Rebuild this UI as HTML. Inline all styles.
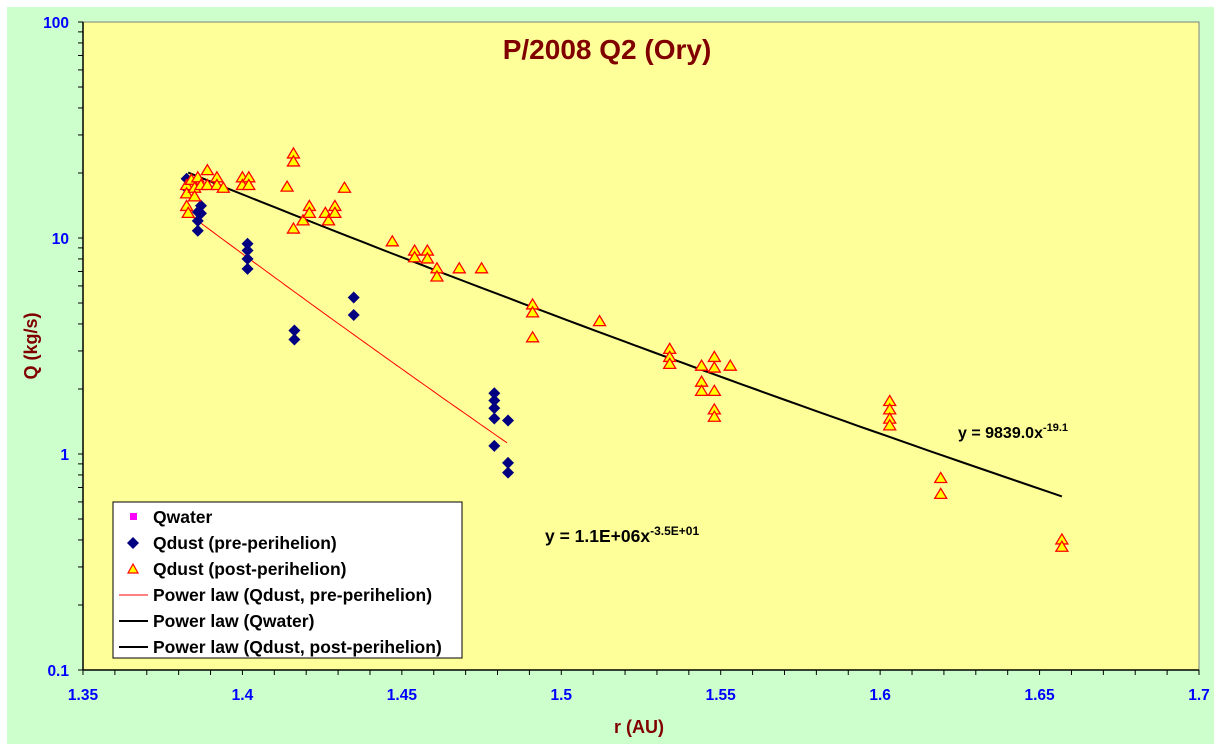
<!DOCTYPE html>
<html><head><meta charset="utf-8"><style>
html,body{margin:0;padding:0;background:#fff;}
svg{display:block;font-family:"Liberation Sans",Arial,sans-serif;font-weight:bold;}
</style></head><body>
<svg id="chart" width="1221" height="750" viewBox="0 0 1221 750">
<rect x="7" y="7" width="1207" height="737" fill="#CCFFCC"/>
<rect x="83" y="22" width="1116" height="648" fill="#FFFF99" stroke="#808080" stroke-width="1"/>
<g id="axes"></g>
<g id="marks"></g>
<text x="607" y="59" text-anchor="middle" font-size="28" fill="#800000">P/2008 Q2 (Ory)</text>
<text transform="translate(37,346) rotate(-90)" text-anchor="middle" font-size="18" fill="#800000">Q (kg/s)</text>
<text x="639" y="733" text-anchor="middle" font-size="18" fill="#800000">r (AU)</text>
<text x="958" y="438" font-size="16" fill="#000">y = 9839.0x<tspan dy="-7" font-size="11">-19.1</tspan></text>
<text x="545" y="542" font-size="17.5" fill="#000">y = 1.1E+06x<tspan dy="-7" font-size="12">-3.5E+01</tspan></text>
<g>
<rect x="113" y="502" width="349" height="156" fill="#fff" stroke="#000"/>
<rect x="130" y="513" width="7" height="7" fill="#FF00FF"/>
<text x="153" y="523" font-size="17.5">Qwater</text>
<polygon points="133,537 139,543 133,549 127,543" fill="#000080"/>
<text x="153" y="549" font-size="17.5">Qdust (pre-perihelion)</text>
<polygon points="133,564 138,573 128,573" fill="#FFFF00" stroke="#FF0000" stroke-width="1.2"/>
<text x="153" y="575" font-size="17.5">Qdust (post-perihelion)</text>
<line x1="119" y1="595" x2="148" y2="595" stroke="#FF0000" stroke-width="1"/>
<text x="153" y="601" font-size="17.5">Power law (Qdust, pre-perihelion)</text>
<line x1="119" y1="621" x2="148" y2="621" stroke="#000" stroke-width="2"/>
<text x="153" y="627" font-size="17.5">Power law (Qwater)</text>
<line x1="119" y1="647" x2="148" y2="647" stroke="#000" stroke-width="2"/>
<text x="153" y="653" font-size="17.5">Power law (Qdust, post-perihelion)</text>
</g>
</svg>
<script>
const xTicks=[1.35,1.4,1.45,1.5,1.55,1.6,1.65,1.7];
const xTickLabels=["1.35","1.4","1.45","1.5","1.55","1.6","1.65","1.7"];
const yTicks=[0.1,1,10,100];
const yTickLabels=["0.1","1","10","100"];
const preR=[1.3825,1.3825,1.386,1.386,1.386,1.387,1.387,1.4016,1.4016,1.4016,1.4016,1.4163,1.4163,1.4349,1.4349,1.479,1.479,1.479,1.479,1.479,1.4833,1.4833,1.4833];
const preQ=[18.8,17,13.2,12,10.8,14.1,13,9.4,8.75,8.0,7.2,3.73,3.39,5.3,4.4,1.91,1.77,1.63,1.46,1.09,1.43,0.91,0.82];
const postR=[1.3825,1.3825,1.3825,1.383,1.384,1.385,1.386,1.387,1.385,1.389,1.389,1.392,1.392,1.394,1.400,1.400,1.402,1.402,1.414,1.416,1.416,1.416,1.419,1.421,1.421,1.426,1.427,1.429,1.429,1.432,1.447,1.454,1.454,1.458,1.458,1.461,1.461,1.468,1.475,1.491,1.491,1.491,1.512,1.534,1.534,1.534,1.544,1.544,1.544,1.548,1.548,1.548,1.548,1.548,1.553,1.603,1.603,1.603,1.603,1.619,1.619,1.657,1.657];
const postQ=[17.5,16,14,13,18.5,17,19,17.5,15.5,20.5,17.5,19,17.5,17,19,17.5,19,17.5,17.2,24.5,22.5,11,12,14,13,13,12,14,13,17,9.6,8.7,8.1,8.7,8,7.2,6.6,7.2,7.2,4.9,4.5,3.45,4.1,3.05,2.8,2.6,2.55,2.15,1.95,2.8,2.5,1.95,1.6,1.48,2.55,1.75,1.6,1.45,1.35,0.77,0.65,0.4,0.37];
const preFit=[1.1e6,-35.0,1.384,1.483];
const postFit=[9839.0,-19.1,1.383,1.657];
const X0=83,X1=1199,Y0=670,Y1=22;
function xs(v){return X0+(v-1.35)/(1.7-1.35)*(X1-X0);}
function ys(q){return Y0-(Math.log10(q)+1)/3*(Y0-Y1);}
const NS="http://www.w3.org/2000/svg";
function mk(tag,attrs,parent){const e=document.createElementNS(NS,tag);for(const k in attrs)e.setAttribute(k,attrs[k]);parent.appendChild(e);return e;}
const axes=document.getElementById('axes'),marks=document.getElementById('marks');
let a=mk('line',{x1:X0,y1:Y1,x2:X0,y2:Y0,stroke:'#000','stroke-width':1.5},axes);


a=mk('line',{x1:X0,y1:Y0,x2:X1,y2:Y0,stroke:'#000','stroke-width':1.5},axes);


for(let v=1.35;v<=1.7001;v+=0.01){const t=mk('line',{x1:xs(v),y1:Y0,x2:xs(v),y2:Y0+5,stroke:'#000'},axes);

}
xTicks.forEach((v,i)=>{const t=mk('text',{x:xs(v),y:Y0+30,'text-anchor':'middle','font-size':15.5,fill:'#0000FF'},axes);t.textContent=xTickLabels[i];

});
for(let d=-1;d<2;d++){for(let m=1;m<10;m++){const q=m*Math.pow(10,d);const t=mk('line',{x1:X0-5,y1:ys(q),x2:X0,y2:ys(q),stroke:'#000'},axes);

}}
mk('line',{x1:X0-5,y1:Y1,x2:X0,y2:Y1,stroke:'#000'},axes);
yTicks.forEach((v,i)=>{const t=mk('text',{x:X0-14,y:ys(v)+6,'text-anchor':'end','font-size':15.5,fill:'#0000FF'},axes);t.textContent=yTickLabels[i];

});
function fitPath(f){let d='';for(let i=0;i<=60;i++){const r=f[2]+(f[3]-f[2])*i/60;const q=f[0]*Math.pow(r,f[1]);d+=(i?'L':'M')+xs(r).toFixed(1)+','+ys(q).toFixed(1);}return d;}
let l=mk('path',{d:fitPath(preFit),stroke:'#FF0000','stroke-width':1,fill:'none'},marks);


l=mk('path',{d:fitPath(postFit),stroke:'#000','stroke-width':2,fill:'none'},marks);


preR.forEach((r,i)=>{const x=xs(r),y=ys(preQ[i]);const p=mk('polygon',{points:`${x},${y-6} ${x+6},${y} ${x},${y+6} ${x-6},${y}`,fill:'#000080'},marks);

});
postR.forEach((r,i)=>{const x=xs(r),y=ys(postQ[i]);const p=mk('polygon',{points:`${x},${y-6} ${x+6},${y+4} ${x-6},${y+4}`,fill:'#FFFF00',stroke:'#FF0000','stroke-width':1.3},marks);

});
</script>
</body></html>
